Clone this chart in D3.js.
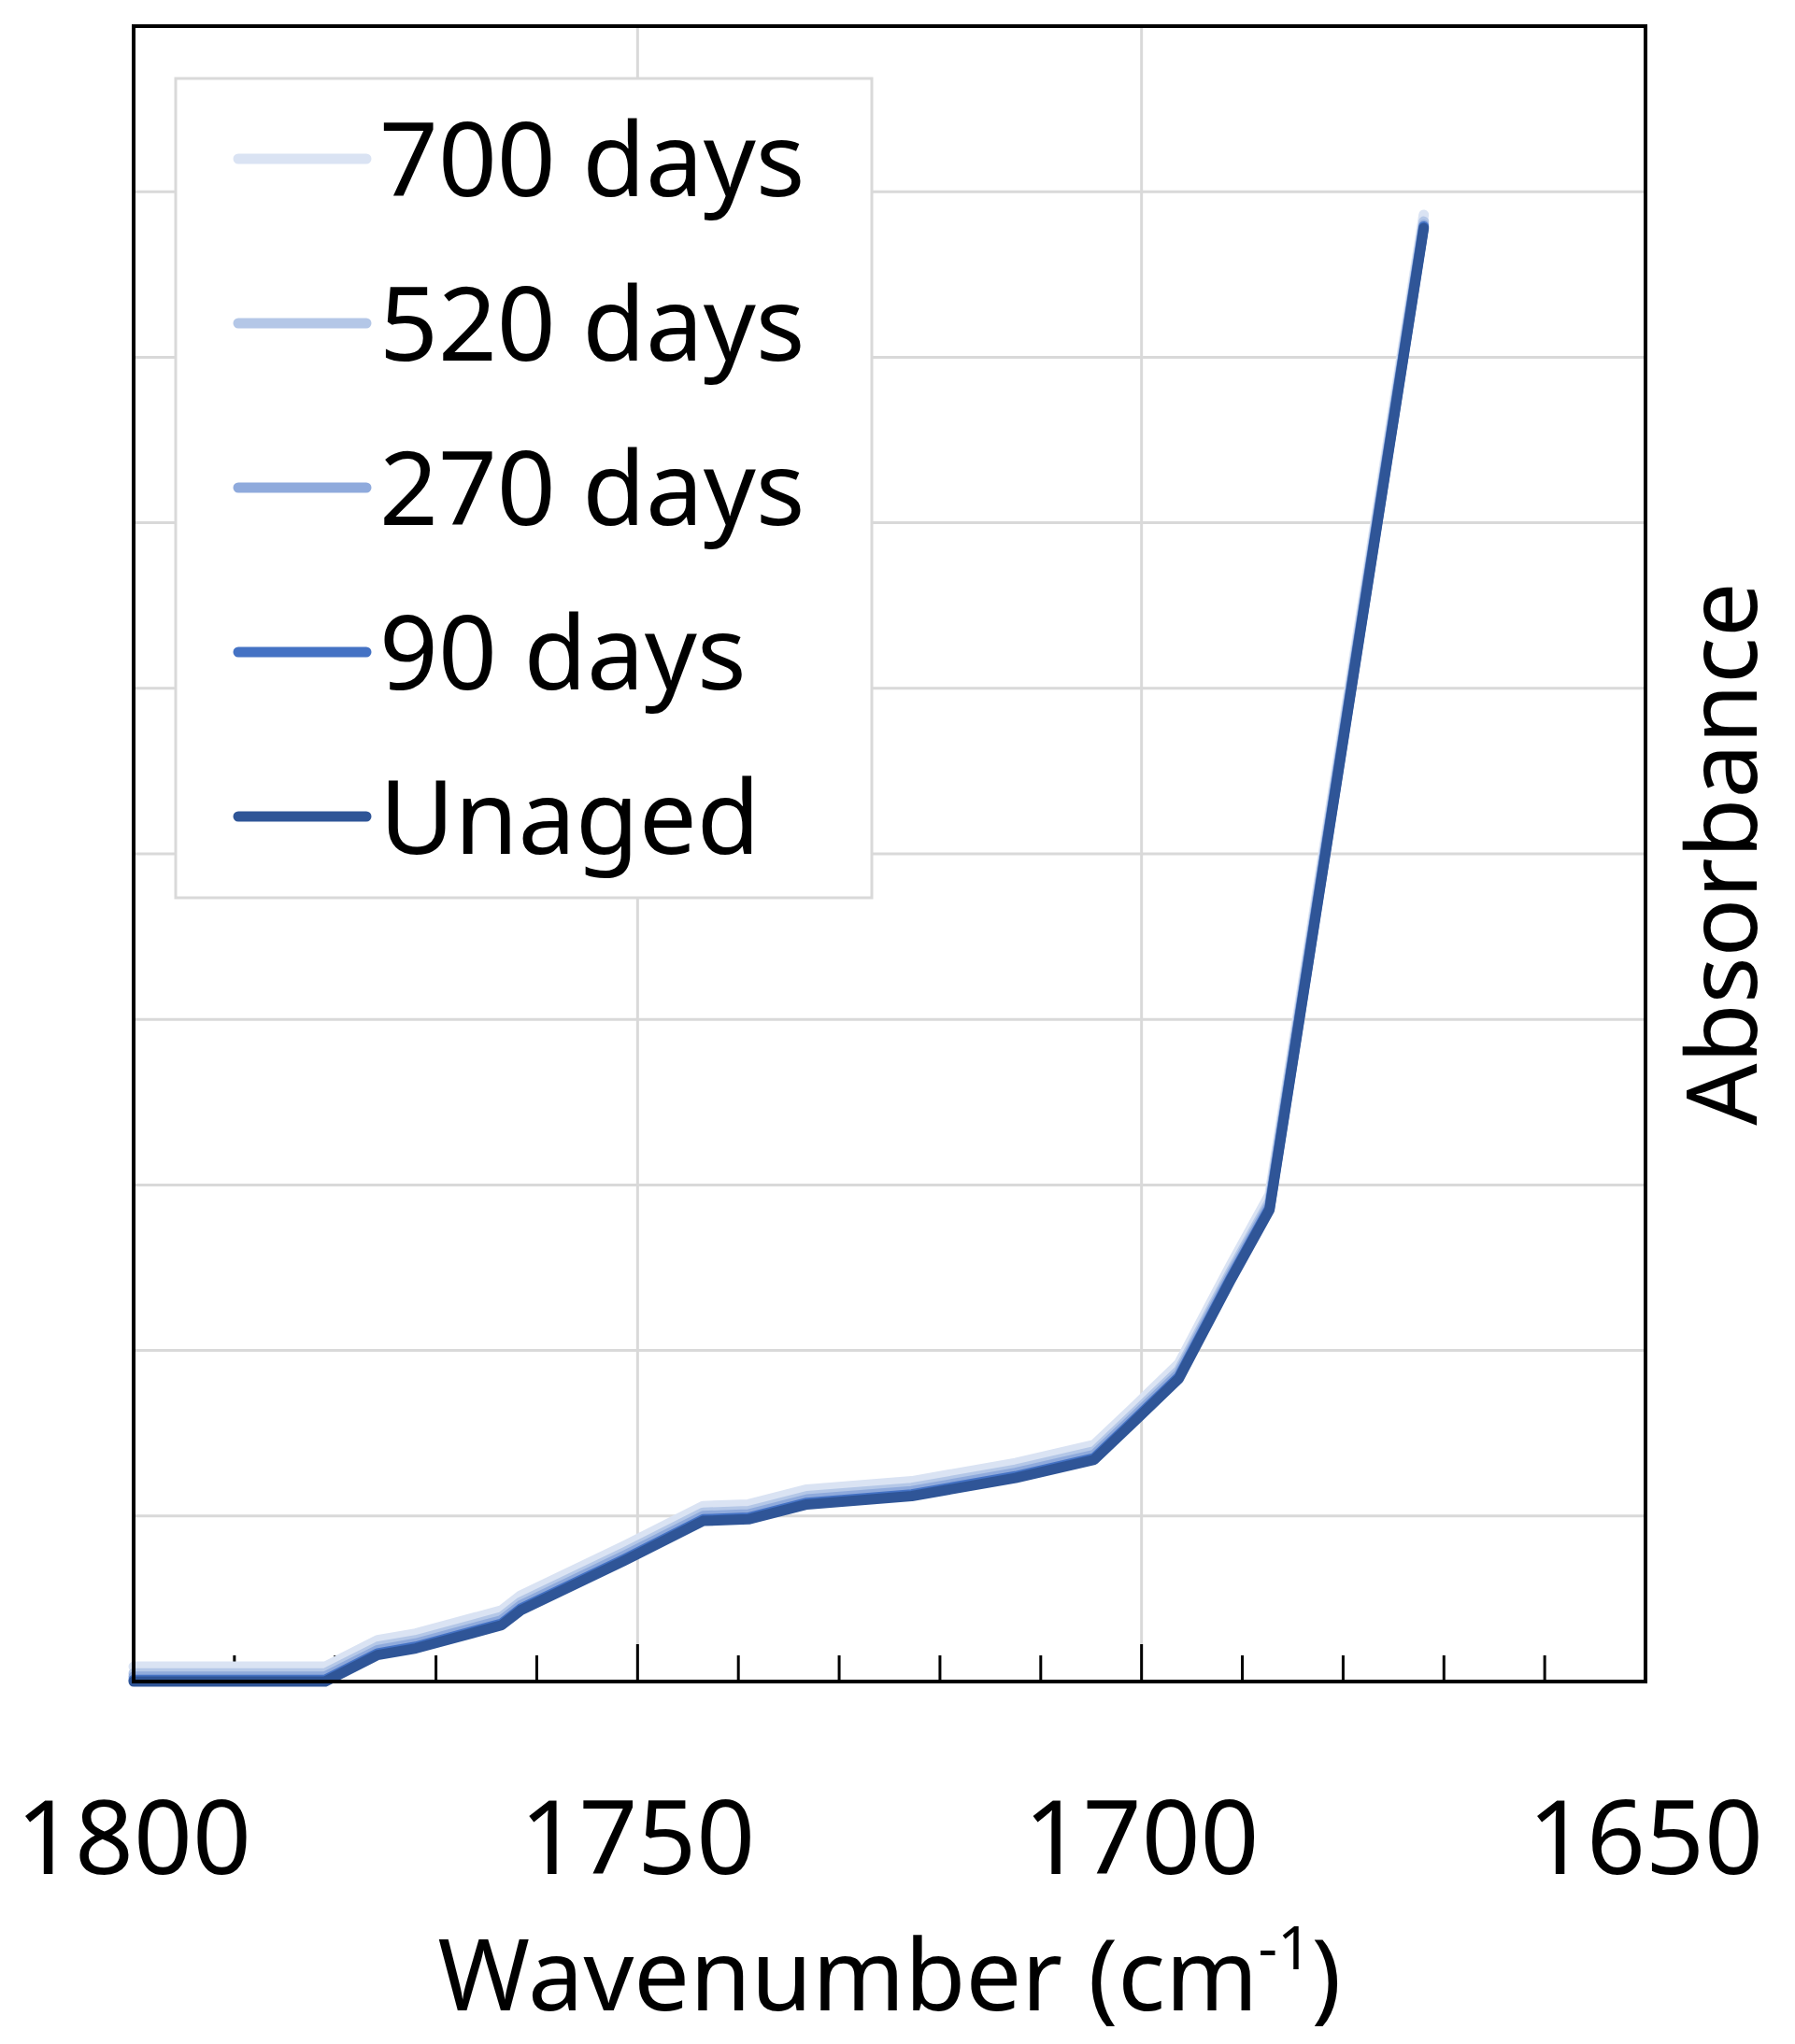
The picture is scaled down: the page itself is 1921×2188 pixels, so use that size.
<!DOCTYPE html>
<html>
<head>
<meta charset="utf-8">
<script src="https://cdn.jsdelivr.net/npm/d3@7"></script>
<style>
  body { margin: 0; background: #fff; }
  text { font-family: "Noto Sans", sans-serif; fill: #000; }
</style>
</head>
<body>
<div id="chart"></div>
<script>
// wavenumber (cm-1) and absorbance of the unaged sample
const wavenumbers = [1800, 1781, 1775.8, 1772, 1763.5, 1761.6, 1751.3, 1743.5, 1739, 1733.2, 1722.8, 1712.5, 1704.7, 1700.9, 1696.3, 1691.2, 1687.3, 1672];
const unaged      = [0, 0, 0.16, 0.2, 0.34, 0.43, 0.73, 0.97, 0.98, 1.07, 1.12, 1.23, 1.34, 1.56, 1.83, 2.42, 2.85, 8.78];
const days90      = [0.01, 0.01, 0.17, 0.21, 0.35, 0.44, 0.74, 0.98, 0.99, 1.08, 1.13, 1.24, 1.35, 1.57, 1.84, 2.43, 2.86, 8.79];
const days270     = [0.03, 0.03, 0.19, 0.23, 0.37, 0.46, 0.76, 1.0, 1.01, 1.1, 1.15, 1.26, 1.37, 1.59, 1.86, 2.45, 2.88, 8.8];
const days520     = [0.05, 0.05, 0.21, 0.25, 0.39, 0.48, 0.78, 1.02, 1.03, 1.12, 1.17, 1.28, 1.39, 1.61, 1.88, 2.47, 2.9, 8.82];
const days700     = [0.09, 0.09, 0.25, 0.29, 0.43, 0.52, 0.82, 1.06, 1.07, 1.16, 1.21, 1.32, 1.43, 1.65, 1.92, 2.51, 2.94, 8.86];

const seriesNames  = ["700 days", "520 days", "270 days", "90 days", "Unaged"];
const seriesValues = [days700, days520, days270, days90, unaged];
const seriesColors = ["#dae3f3", "#b4c7e7", "#8faadc", "#4472c4", "#2f5597"];
const xTickLabels  = [1800, 1750, 1700, 1650];

const width = 1921, height = 2188;
const m = { left: 143, right: 166, top: 28, bottom: 388 };
const pw = width - m.left - m.right + 6, ph = height - m.top - m.bottom;

const svg = d3.select("#chart").append("svg")
    .attr("width", width)
    .attr("height", height);

const x = d3.scaleLinear().domain([1800, 1650]).range([m.left, m.left + pw]);
const y = d3.scaleLinear().domain([0, 10]).range([m.top + ph, m.top]);

// grid
svg.append("g").selectAll("line").data(d3.range(1, 10))
    .enter().append("line")
    .attr("x1", m.left).attr("x2", m.left + pw)
    .attr("y1", d => y(d)).attr("y2", d => y(d))
    .attr("stroke", "#d9d9d9").attr("stroke-width", 3);
svg.append("g").selectAll("line").data([1750, 1700])
    .enter().append("line")
    .attr("x1", d => x(d)).attr("x2", d => x(d))
    .attr("y1", m.top).attr("y2", m.top + ph)
    .attr("stroke", "#d9d9d9").attr("stroke-width", 3);

// inward ticks on bottom axis
svg.append("g").selectAll("line").data(d3.range(1790, 1650, -10))
    .enter().append("line")
    .attr("x1", d => x(d)).attr("x2", d => x(d))
    .attr("y1", m.top + ph)
    .attr("y2", d => m.top + ph - (d % 50 === 0 ? 40 : 28))
    .attr("stroke", "#000").attr("stroke-width", 3);

// lines
const line = d3.line()
    .x((d, i) => x(wavenumbers[i]))
    .y(d => y(d))
    .curve(d3.curveLinear);

svg.append("g").selectAll("path").data(seriesValues)
    .enter().append("path")
    .attr("d", d => line(d))
    .attr("fill", "none")
    .attr("stroke", (d, i) => seriesColors[i])
    .attr("stroke-width", 11)
    .attr("stroke-linecap", "round")
    .attr("stroke-linejoin", "round");

// frame
svg.append("rect")
    .attr("x", m.left).attr("y", m.top)
    .attr("width", pw).attr("height", ph)
    .attr("fill", "none").attr("stroke", "#000").attr("stroke-width", 4);

// x tick labels
svg.append("g").selectAll("text").data(xTickLabels)
    .enter().append("text")
    .attr("x", d => x(d)).attr("y", 2006)
    .attr("text-anchor", "middle")
    .attr("font-size", 110)
    .text(d => d);

// axis titles
const xt = svg.append("text")
    .attr("x", m.left + pw / 2).attr("y", 2152)
    .attr("text-anchor", "middle")
    .attr("font-size", 106);
xt.append("tspan").text("Wavenumber (cm");
xt.append("tspan").attr("font-size", 64).attr("dy", -44).text("-1");
xt.append("tspan").attr("dy", 44).text(")");

svg.append("text")
    .attr("transform", `translate(1880,${m.top + ph / 2}) rotate(-90)`)
    .attr("text-anchor", "middle")
    .attr("font-size", 104)
    .text("Absorbance");

// legend
const lg = svg.append("g");
lg.append("rect")
    .attr("x", 188).attr("y", 84).attr("width", 745).attr("height", 877)
    .attr("fill", "#fff").attr("stroke", "#d9d9d9").attr("stroke-width", 3);
const ly = d3.scalePoint().domain(seriesNames).range([170, 874]);
const item = lg.selectAll("g.item").data(seriesNames).enter().append("g");
item.append("line")
    .attr("x1", 255).attr("x2", 392)
    .attr("y1", d => ly(d)).attr("y2", d => ly(d))
    .attr("stroke", (d, i) => seriesColors[i])
    .attr("stroke-width", 11).attr("stroke-linecap", "round");
item.append("text")
    .attr("x", 406).attr("y", d => ly(d))
    .attr("dy", "0.36em")
    .attr("font-size", 110)
    .text(d => d);
</script>
</body>
</html>
